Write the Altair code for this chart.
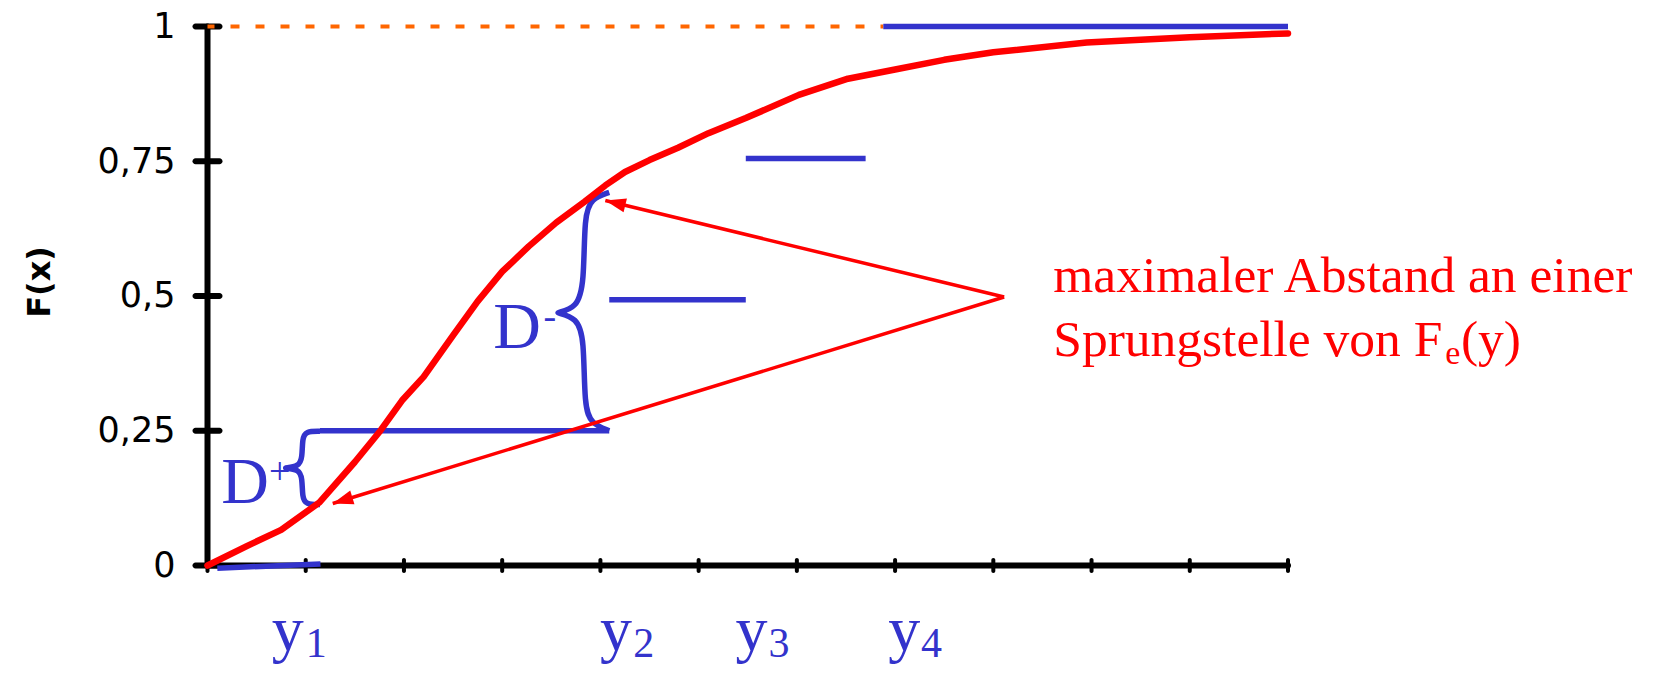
import math
import altair as alt
import pandas as pd

# ---------------- data ----------------
Y_TICKS = [0, 0.25, 0.5, 0.75, 1]
X_TICKS = [0, 1, 2, 3, 4, 5, 6, 7, 8, 9, 10, 11]

# theoretical distribution function F(x) (red curve)
CURVE_X = [0, 0.40, 0.75, 1.14, 1.50, 1.76, 1.98, 2.20, 2.50, 2.75, 3.00, 3.27, 3.55,
           3.84, 4.05, 4.25, 4.50, 4.79, 5.10, 5.48, 6.02, 6.52, 7.00, 7.50, 8.00,
           8.95, 10.0, 11.0]
CURVE_Y = [0, 0.036, 0.066, 0.117, 0.192, 0.25, 0.306, 0.350, 0.427, 0.490, 0.545,
           0.592, 0.636, 0.675, 0.705, 0.730, 0.752, 0.775, 0.802, 0.830, 0.873,
           0.903, 0.920, 0.938, 0.952, 0.970, 0.980, 0.987]

# empirical distribution function F_e(y) (blue steps)
STEP_X1 = [0.10, 1.145, 4.09, 5.48, 6.88]
STEP_X2 = [1.15, 4.09, 5.48, 6.70, 11.0]
STEP_Y1 = [-0.005, 0.25, 0.493, 0.755, 1.0]
STEP_Y2 = [0.003, 0.25, 0.493, 0.755, 1.0]

# curly braces D+ and D-
BRACE_PLUS_X = [1.145, 1.00, 0.965, 0.965, 0.93, 0.79, 0.79, 0.93, 0.965, 0.965, 1.00, 1.145]
BRACE_PLUS_Y = [0.249, 0.249, 0.235, 0.200, 0.184, 0.181, 0.181, 0.178, 0.162, 0.127, 0.113, 0.113]
BRACE_MINUS_X = [4.09, 3.91, 3.835, 3.835, 3.76, 3.56, 3.56, 3.76, 3.835, 3.835, 3.91, 4.09]
BRACE_MINUS_Y = [0.692, 0.681, 0.651, 0.522, 0.478, 0.469, 0.469, 0.459, 0.423, 0.293, 0.263, 0.25]

# dashed reference line at F = 1
REF_X = [0, 6.88]
REF_Y = [1, 1]

# annotation arrows
ARROW_FROM_X, ARROW_FROM_Y = 8.11, 0.498
ARROW_TO_X = [4.05, 1.275]
ARROW_TO_Y = [0.677, 0.115]

# blue labels
BLUE_TEXT = ["D", "+", "D", "-", "y", "y", "y", "y", "1", "2", "3", "4"]
BLUE_X = [0.14, 0.625, 2.91, 3.42, 0.654, 3.996, 5.376, 6.93, 1.0, 4.335, 5.71, 7.265]
BLUE_Y = [0.116, 0.152, 0.403, 0.438, -0.156, -0.156, -0.156, -0.156,
          -0.1706, -0.1706, -0.1706, -0.1706]
BLUE_SIZE = [66, 38, 66, 38, 64, 64, 64, 64, 42, 42, 42, 42]

# red annotation
RED_TEXT = ["maximaler Abstand an einer", "Sprungstelle von F", "e", "(y)"]
RED_X = [8.61, 8.61, 12.6, 12.76]
RED_Y = [0.508, 0.388, 0.373, 0.388]
RED_SIZE = [51.5, 51.5, 34, 51.5]

# ---------------- layout / style ----------------
W, H = 1080.5, 539.1
PAD = {"left": 199.5, "top": 18.4, "right": 373, "bottom": 102.5}
PX_X = W / 11.0
PX_Y = H / 1.0
BLUE = "#3333CC"
RED = "#FF0000"
ORANGE = "#FF6600"
SERIF = "Liberation Serif"

xs = alt.Scale(domain=[0, 11], nice=False, zero=False)
ys = alt.Scale(domain=[0, 1], nice=False, zero=False)

y_axis = alt.Axis(
    values=Y_TICKS,
    labelExpr="replace(format(datum.value, '.2~f'), '.', ',')",
    domain=False, ticks=False, tickSize=0, grid=False,
    labelFont="DejaVu Sans", labelFontSize=35, labelColor="black",
    labelPadding=32.5, labelAlign="right", labelBaseline="middle",
    title="F(x)", titleFont="DejaVu Sans", titleFontSize=32, titleFontWeight="bold",
    titleColor="black", titleAngle=270, titleX=-168, titleY=255,
    titleAlign="center", titleBaseline="middle",
)


def X(f="x"):
    return alt.X(f"{f}:Q", scale=xs, axis=None)


def Y(f="y"):
    return alt.Y(f"{f}:Q", scale=ys, axis=y_axis)


# axes lines
axes_df = pd.DataFrame({"x": [0, 0], "y": [0, 0], "x2": [11, 0], "y2": [0, 1]})
axes = alt.Chart(axes_df).mark_rule(color="black", strokeWidth=6, strokeCap="round").encode(
    x=X(), y=Y(), x2="x2:Q", y2="y2:Q"
)

ytick_df = pd.DataFrame({"x": [0] * len(Y_TICKS), "y": Y_TICKS})
yticks = alt.Chart(ytick_df).mark_tick(
    color="black", orient="horizontal", size=30, thickness=6, cornerRadius=3, opacity=1
).encode(x=X(), y=Y())

xtick_df = pd.DataFrame({"x": X_TICKS, "y": [0] * len(X_TICKS)})
xticks = alt.Chart(xtick_df).mark_tick(
    color="black", orient="vertical", size=15, thickness=4, cornerRadius=2, opacity=1
).encode(x=X(), y=Y())

ref_df = pd.DataFrame({"x": REF_X, "y": REF_Y})
ref = alt.Chart(ref_df).mark_line(
    color=ORANGE, strokeWidth=4, strokeDash=[9, 16], strokeDashOffset=2
).encode(x=X(), y=Y())

steps_df = pd.DataFrame({"x": STEP_X1, "x2": STEP_X2, "y": STEP_Y1, "y2": STEP_Y2})
steps = alt.Chart(steps_df).mark_rule(color=BLUE, strokeWidth=5.5).encode(
    x=X(), y=Y(), x2="x2:Q", y2="y2:Q"
)

brace_df = pd.DataFrame({
    "x": BRACE_PLUS_X + BRACE_MINUS_X,
    "y": BRACE_PLUS_Y + BRACE_MINUS_Y,
    "id": ["p"] * len(BRACE_PLUS_X) + ["m"] * len(BRACE_MINUS_X),
    "i": list(range(len(BRACE_PLUS_X))) + list(range(len(BRACE_MINUS_X))),
})
braces = alt.Chart(brace_df).mark_line(
    color=BLUE, strokeWidth=5.5, interpolate="basis", strokeCap="butt"
).encode(x=X(), y=Y(), detail="id:N", order="i:Q")

curve_df = pd.DataFrame({"x": CURVE_X, "y": CURVE_Y, "i": list(range(len(CURVE_X)))})
curve = alt.Chart(curve_df).mark_line(
    color=RED, strokeWidth=6.5, strokeCap="round", strokeJoin="round"
).encode(x=X(), y=Y(), order="i:Q")

arrow_df = pd.DataFrame({
    "x": [ARROW_FROM_X] * len(ARROW_TO_X), "y": [ARROW_FROM_Y] * len(ARROW_TO_X),
    "x2": ARROW_TO_X, "y2": ARROW_TO_Y,
})
arrows = alt.Chart(arrow_df).mark_rule(color=RED, strokeWidth=3.5).encode(
    x=X(), y=Y(), x2="x2:Q", y2="y2:Q"
)

angles = []
for tx, ty in zip(ARROW_TO_X, ARROW_TO_Y):
    dx = (tx - ARROW_FROM_X) * PX_X
    dy = -(ty - ARROW_FROM_Y) * PX_Y
    angles.append(math.degrees(math.atan2(dx, -dy)) % 360)
head_df = pd.DataFrame({"x": ARROW_TO_X, "y": ARROW_TO_Y, "ang": angles})
heads = alt.Chart(head_df).mark_point(
    shape="M0,0L-0.7,2L0.7,2Z", filled=True, size=420, color=RED, opacity=1, strokeWidth=0
).encode(x=X(), y=Y(), angle=alt.Angle("ang:Q", scale=None))

blue_df = pd.DataFrame({"x": BLUE_X, "y": BLUE_Y, "t": BLUE_TEXT, "s": BLUE_SIZE})
blue_text = alt.Chart(blue_df).mark_text(
    font=SERIF, color=BLUE, align="left", baseline="alphabetic"
).encode(x=X(), y=Y(), text="t:N", size=alt.Size("s:Q", scale=None))

red_df = pd.DataFrame({"x": RED_X, "y": RED_Y, "t": RED_TEXT, "s": RED_SIZE})
red_text = alt.Chart(red_df).mark_text(
    font=SERIF, color=RED, align="left", baseline="alphabetic"
).encode(x=X(), y=Y(), text="t:N", size=alt.Size("s:Q", scale=None))

chart = alt.layer(
    axes, yticks, xticks, ref, steps, braces, curve, arrows, heads, blue_text, red_text
).properties(
    width=W, height=H,
    autosize=alt.AutoSizeParams(type="none"),
    padding=PAD,
    background="white",
).configure_view(stroke=None)

chart.save("out.html", embed_options={"renderer": "svg", "actions": False})
